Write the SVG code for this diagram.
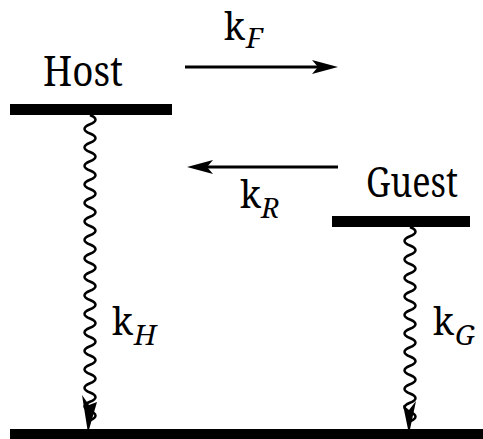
<svg xmlns="http://www.w3.org/2000/svg" width="483" height="439" viewBox="0 0 483 439">
  <style>
    text { font-family: 'Noto Serif', 'DejaVu Serif', serif; fill: #000; }
    .big { font-size: 41px; }
    .k { font-size: 39px; }
    .sub { font-size: 28px; font-style: italic; }
    .wave { fill: none; stroke: #000; stroke-width: 2.5; }
    .arrow { stroke: #000; stroke-width: 3; fill: none; }
    .bar { fill: #000; }
  </style>
  <rect width="483" height="439" fill="#fff"/>

  <!-- energy levels -->
  <g id="host">
    <rect class="bar" x="10" y="104" width="162" height="11"/>
    <text class="big" x="43" y="86" textLength="80" lengthAdjust="spacingAndGlyphs">Host</text>
  </g>
  <g id="guest">
    <rect class="bar" x="332" y="216" width="138" height="11"/>
    <text class="big" x="366" y="197" textLength="92" lengthAdjust="spacingAndGlyphs">Guest</text>
  </g>
  <g id="ground">
    <rect class="bar" x="10" y="429" width="473" height="10"/>
  </g>

  <!-- transfer and decay connectors -->
  <g id="connectors">
    <line class="arrow" x1="185" y1="67" x2="318" y2="67"/>
    <polygon points="338,67 312,60 318,67 312,74"/>
    <line class="arrow" x1="207" y1="167" x2="338" y2="167"/>
    <polygon points="187,167 213,160 207,167 213,174"/>

    <path class="wave" d="M90,115 q11,4.625 0,9.25 t0,9.25 t0,9.25 t0,9.25 t0,9.25 t0,9.25 t0,9.25 t0,9.25 t0,9.25 t0,9.25 t0,9.25 t0,9.25 t0,9.25 t0,9.25 t0,9.25 t0,9.25 t0,9.25 t0,9.25 t0,9.25 t0,9.25 t0,9.25 t0,9.25 t0,9.25 t0,9.25 t0,9.25 t0,9.25 t0,9.25 t0,9.25 t0,9.25 t0,9.25 t0,9.25 t0,9.25 t0,9.25"/>
    <polygon points="82,395 89,405 97,402 88,433"/>

    <path class="wave" d="M410,227 q11,4.625 0,9.25 t0,9.25 t0,9.25 t0,9.25 t0,9.25 t0,9.25 t0,9.25 t0,9.25 t0,9.25 t0,9.25 t0,9.25 t0,9.25 t0,9.25 t0,9.25 t0,9.25 t0,9.25 t0,9.25 t0,9.25 t0,9.25 t0,9.25 t0,9.25"/>
    <polygon points="403,405 409,410 416,401 409,434"/>
  </g>

  <!-- rate constants -->
  <g id="label-kF">
    <text class="k" x="224" y="40" textLength="21" lengthAdjust="spacingAndGlyphs">k</text>
    <text class="sub" x="246" y="48">F</text>
  </g>
  <g id="label-kR">
    <text class="k" x="240" y="208" textLength="21" lengthAdjust="spacingAndGlyphs">k</text>
    <text class="sub" x="261" y="218">R</text>
  </g>
  <g id="label-kH">
    <text class="k" x="112" y="335" textLength="21" lengthAdjust="spacingAndGlyphs">k</text>
    <text class="sub" x="134" y="345">H</text>
  </g>
  <g id="label-kG">
    <text class="k" x="433" y="335" textLength="21" lengthAdjust="spacingAndGlyphs">k</text>
    <text class="sub" x="455" y="345">G</text>
  </g>
</svg>
